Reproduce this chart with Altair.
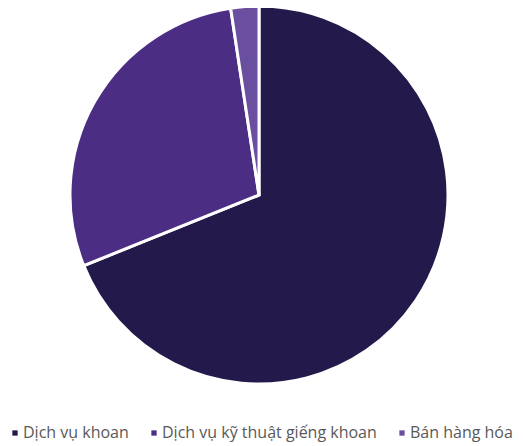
import altair as alt
import pandas as pd

categories = ["Dịch vụ khoan", "Dịch vụ kỹ thuật giếng khoan", "Bán hàng hóa"]
values = [68.9, 28.7, 2.4]
colors = ["#23194a", "#4b2e83", "#6a4fa0"]

df = pd.DataFrame({"cat": categories, "val": values, "ord": list(range(len(categories)))})

chart = alt.Chart(df).mark_arc(outerRadius=189, stroke="white", strokeWidth=3).encode(
    x=alt.value(251),
    y=alt.value(187),
    theta=alt.Theta("val:Q", stack=True),
    order=alt.Order("ord:Q"),
    color=alt.Color(
        "cat:N",
        sort=categories,
        scale=alt.Scale(domain=categories, range=colors),
        legend=alt.Legend(
            title=None,
            orient="none",
            direction="horizontal",
            legendX=-1,
            legendY=417,
            padding=0,
            symbolType="square",
            symbolSize=28,
            symbolStrokeWidth=0,
            labelFontSize=16,
            labelFont="Open Sans",
            labelColor="#595959",
            labelLimit=0,
            columnPadding=17,
            labelOffset=0,
        ),
    ),
).properties(
    width=507, height=438, padding=0,
    autosize=alt.AutoSizeParams(type="none"),
).configure_view(stroke=None)

chart.save("out.html", embed_options={"renderer": "svg", "actions": False})
